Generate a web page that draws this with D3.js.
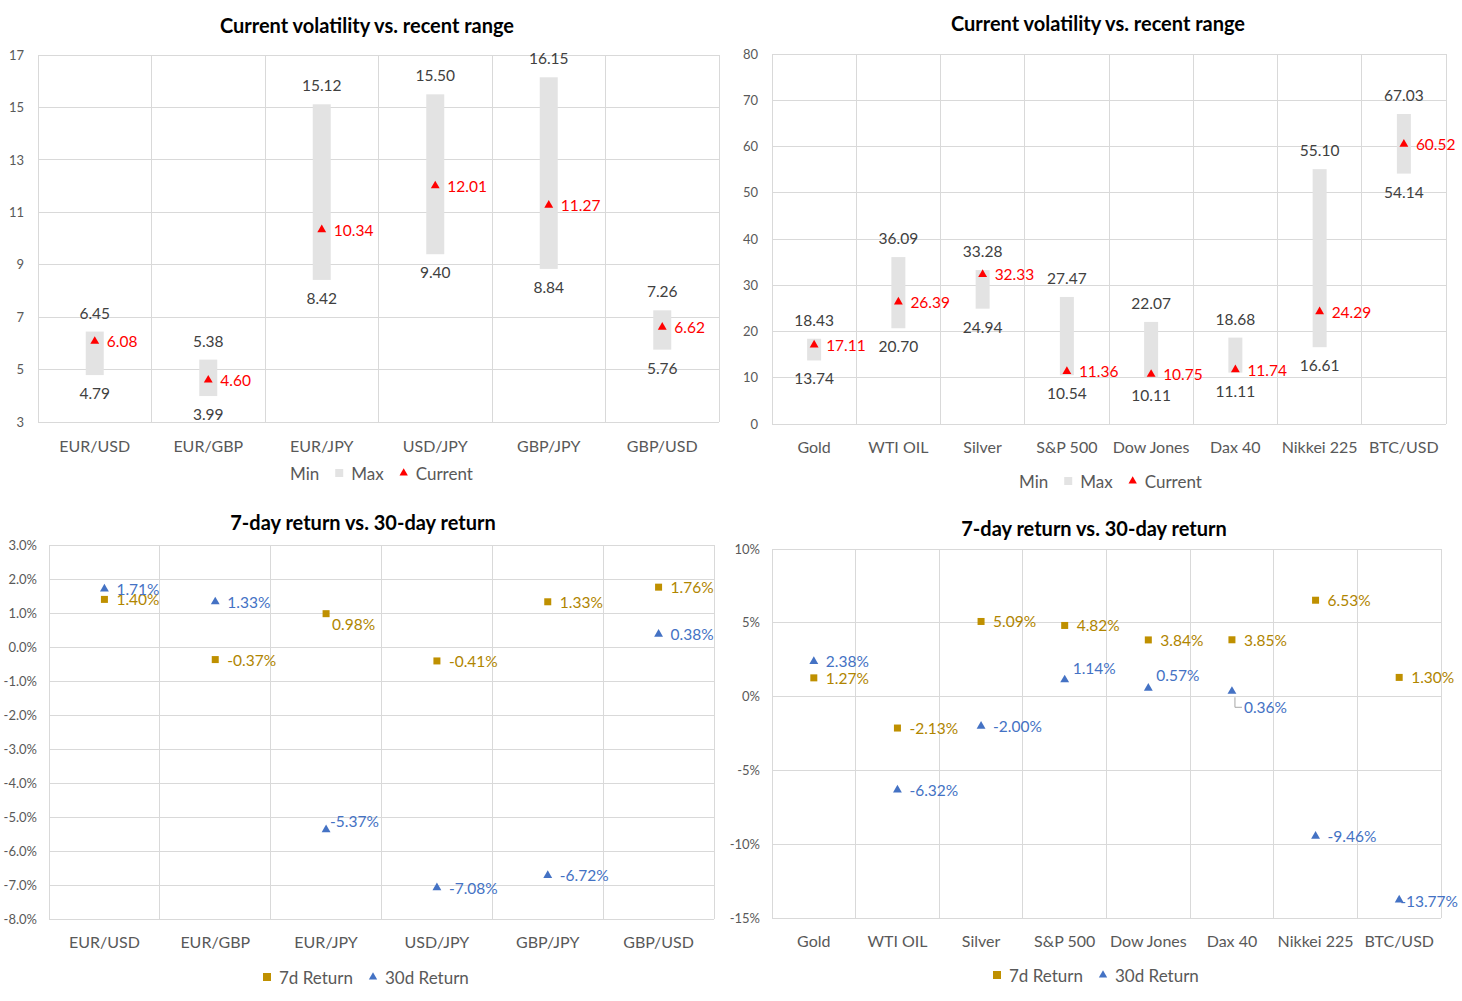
<!DOCTYPE html>
<html>
<head>
<meta charset="utf-8">
<script src="https://cdn.jsdelivr.net/npm/d3@7"></script>
<style>
  html, body { margin: 0; padding: 0; background: #fff; }
  svg { display: block; font-family: Lato, "Open Sans", sans-serif; }
</style>
</head>
<body>
<svg id="chart" width="1462" height="1001"></svg>
<script>
// ---------- DATA ----------
const fxCats = ["EUR/USD", "EUR/GBP", "EUR/JPY", "USD/JPY", "GBP/JPY", "GBP/USD"];
const fxVolMin = [4.79, 3.99, 8.42, 9.40, 8.84, 5.76];
const fxVolMax = [6.45, 5.38, 15.12, 15.50, 16.15, 7.26];
const fxVolCur = [6.08, 4.60, 10.34, 12.01, 11.27, 6.62];
const fxVolTicks = [3, 5, 7, 9, 11, 13, 15, 17];

const mktCats = ["Gold", "WTI OIL", "Silver", "S&P 500", "Dow Jones", "Dax 40", "Nikkei 225", "BTC/USD"];
const mktVolMin = [13.74, 20.70, 24.94, 10.54, 10.11, 11.11, 16.61, 54.14];
const mktVolMax = [18.43, 36.09, 33.28, 27.47, 22.07, 18.68, 55.10, 67.03];
const mktVolCur = [17.11, 26.39, 32.33, 11.36, 10.75, 11.74, 24.29, 60.52];
const mktVolTicks = [0, 10, 20, 30, 40, 50, 60, 70, 80];

const fxRet7 = [1.40, -0.37, 0.98, -0.41, 1.33, 1.76];
const fxRet30 = [1.71, 1.33, -5.37, -7.08, -6.72, 0.38];
const fxRetTicks = [-8, -7, -6, -5, -4, -3, -2, -1, 0, 1, 2, 3];

const mktRet7 = [1.27, -2.13, 5.09, 4.82, 3.84, 3.85, 6.53, 1.30];
const mktRet30 = [2.38, -6.32, -2.00, 1.14, 0.57, 0.36, -9.46, -13.77];
const mktRetTicks = [-15, -10, -5, 0, 5, 10];

const volTitle = "Current volatility vs. recent range";
const retTitle = "7-day return vs. 30-day return";

// ---------- STYLE ----------
const GRID = "#d9d9d9";
const AXIS_TXT = "#595959";
const LBL_TXT = "#404040";
const BAR = "#e3e3e3";
const RED = "#ff0000";
const GOLD = "#bf9000";
const GOLD_TXT = "#b08500";
const BLUE = "#4472c4";

const svg = d3.select("#chart");
const hy = s => s.replace(/\u2212/g, "-");

function frame(cfg, cats, ticks, fmt) {
  const g = svg.append("g");
  const x = d3.scaleBand().domain(cats).range([cfg.left, cfg.right]).padding(0);
  const y = d3.scaleLinear().domain(d3.extent(ticks)).range([cfg.bottom, cfg.top]);

  g.append("g").selectAll("line").data(ticks).join("line")
    .attr("x1", cfg.left).attr("x2", cfg.right)
    .attr("y1", d => y(d)).attr("y2", d => y(d))
    .attr("stroke", GRID).attr("stroke-width", 1).attr("shape-rendering", "crispEdges");
  const bounds = cats.map(c => x(c)).concat([cfg.right]);
  g.append("g").selectAll("line").data(bounds).join("line")
    .attr("x1", d => d).attr("x2", d => d)
    .attr("y1", cfg.top).attr("y2", cfg.bottom)
    .attr("stroke", GRID).attr("stroke-width", 1).attr("shape-rendering", "crispEdges");

  const ya = d3.axisLeft(y).tickValues(ticks).tickSize(0).tickPadding(0).tickFormat(d => hy(fmt(d)));
  const yg = g.append("g").attr("transform", `translate(${cfg.tickX},0)`).call(ya);
  yg.select(".domain").remove();
  yg.selectAll("text").attr("fill", AXIS_TXT).style("font-size", "13px")
    .style("font-family", "Lato, 'Open Sans', sans-serif");

  const xa = d3.axisBottom(x).tickSize(0).tickPadding(0);
  const xg = g.append("g").attr("transform", `translate(0,${cfg.catY})`).call(xa);
  xg.select(".domain").remove();
  xg.selectAll("text").attr("fill", AXIS_TXT).attr("dy", "0.35em").attr("y", 0)
    .style("font-size", "16px").style("font-family", "Lato, 'Open Sans', sans-serif");

  g.append("text").attr("x", cfg.titleX).attr("y", cfg.titleY)
    .attr("text-anchor", "middle").attr("dominant-baseline", "central")
    .attr("font-size", "20px").attr("font-weight", "bold").attr("fill", "#000")
    .text(cfg.title);
  return { g, x, y };
}

function triPath(s) {
  return d3.symbol().type(d3.symbolTriangle).size(s)();
}

function legend(g, startX, y, items) {
  let m = startX;
  items.forEach(it => {
    if (it.type === "square") {
      g.append("rect").attr("x", m - 4).attr("y", y - 4).attr("width", 8).attr("height", 8).attr("fill", it.color);
    } else if (it.type === "tri") {
      g.append("path").attr("d", triPath(30)).attr("transform", `translate(${m},${y})`).attr("fill", it.color);
    }
    const t = g.append("text").attr("x", m + 12).attr("y", y).attr("dominant-baseline", "central")
      .attr("font-size", "17px").attr("fill", AXIS_TXT).text(it.label);
    m = m + 12 + t.node().getComputedTextLength() + 20;
  });
}

function rangeChart(cfg, cats, mins, maxs, curs, ticks) {
  const { g, x, y } = frame(cfg, cats, ticks, d3.format("d"));
  const bw = cfg.barW;
  const data = cats.map((c, i) => ({ c, min: mins[i], max: maxs[i], cur: curs[i] }));
  const cx = d => x(d.c) + x.bandwidth() / 2;

  g.append("g").selectAll("rect").data(data).join("rect")
    .attr("x", d => cx(d) - bw / 2).attr("width", bw)
    .attr("y", d => y(d.max)).attr("height", d => y(d.min) - y(d.max))
    .attr("fill", BAR);

  g.append("g").selectAll("text").data(data).join("text")
    .attr("x", cx).attr("y", d => y(d.max) - 19)
    .attr("text-anchor", "middle").attr("dominant-baseline", "central")
    .attr("font-size", "15.5px").attr("fill", LBL_TXT).text(d => d.max.toFixed(2));
  g.append("g").selectAll("text").data(data).join("text")
    .attr("x", cx).attr("y", d => y(d.min) + 18)
    .attr("text-anchor", "middle").attr("dominant-baseline", "central")
    .attr("font-size", "15.5px").attr("fill", LBL_TXT).text(d => d.min.toFixed(2));

  g.append("g").selectAll("path").data(data).join("path")
    .attr("d", triPath(34)).attr("transform", d => `translate(${cx(d)},${y(d.cur)})`)
    .attr("fill", RED);
  g.append("g").selectAll("text").data(data).join("text")
    .attr("x", d => cx(d) + 12).attr("y", d => y(d.cur))
    .attr("dominant-baseline", "central")
    .attr("font-size", "15.5px").attr("fill", RED).text(d => d.cur.toFixed(2));

  legend(g, cfg.legX, cfg.legY, [
    { type: "none", label: "Min" },
    { type: "square", color: BAR, label: "Max" },
    { type: "tri", color: RED, label: "Current" }
  ]);
}

function returnChart(cfg, cats, r7, r30, ticks, fmt, offsets) {
  const { g, x, y } = frame(cfg, cats, ticks, fmt);
  const cx = c => x(c) + x.bandwidth() / 2;
  const pct = v => hy(d3.format(".2f")(v)) + "%";
  const d7 = cats.map((c, i) => ({ c, v: r7[i] }));
  const d30 = cats.map((c, i) => ({ c, v: r30[i] }));
  const off = (key, c) => (offsets[key] && offsets[key][c]) || { dx: 12, dy: 0 };

  cats.forEach((c, i) => {
    const o = off("r30", c);
    if (o.leader) {
      const px = cx(c) + 3, py = y(r30[i]) + 6;
      const ly = y(r30[i]) + o.dy;
      g.append("path").attr("d", `M${px},${py} V${ly} H${cx(c) + o.dx - 2}`)
        .attr("fill", "none").attr("stroke", "#a6a6a6").attr("stroke-width", 1);
    }
  });

  g.append("g").selectAll("text").data(d7).join("text")
    .attr("x", d => cx(d.c) + off("r7", d.c).dx).attr("y", d => y(d.v) + off("r7", d.c).dy)
    .attr("dominant-baseline", "central").attr("font-size", "15.5px").attr("fill", GOLD_TXT)
    .text(d => pct(d.v));
  g.append("g").selectAll("text").data(d30).join("text")
    .attr("x", d => cx(d.c) + off("r30", d.c).dx).attr("y", d => y(d.v) + off("r30", d.c).dy)
    .attr("dominant-baseline", "central").attr("font-size", "15.5px").attr("fill", BLUE)
    .text(d => pct(d.v));

  g.append("g").selectAll("rect").data(d7).join("rect")
    .attr("x", d => cx(d.c) - 3.5).attr("y", d => y(d.v) - 3.5)
    .attr("width", 7).attr("height", 7).attr("fill", GOLD);
  g.append("g").selectAll("path").data(d30).join("path")
    .attr("d", triPath(34)).attr("transform", d => `translate(${cx(d.c)},${y(d.v)})`)
    .attr("fill", BLUE);

  legend(g, cfg.legX, cfg.legY, [
    { type: "square", color: GOLD, label: "7d Return" },
    { type: "tri", color: BLUE, label: "30d Return" }
  ]);
}

// ---------- CHARTS ----------
rangeChart({ left: 38, right: 719, top: 55, bottom: 422, tickX: 24, catY: 446,
  titleX: 367, titleY: 25, title: volTitle, barW: 18, legX: 278, legY: 473 },
  fxCats, fxVolMin, fxVolMax, fxVolCur, fxVolTicks);

rangeChart({ left: 772, right: 1446, top: 54, bottom: 424, tickX: 758, catY: 447,
  titleX: 1098, titleY: 23, title: volTitle, barW: 14, legX: 1007, legY: 481 },
  mktCats, mktVolMin, mktVolMax, mktVolCur, mktVolTicks);

returnChart({ left: 49, right: 714, top: 545, bottom: 919, tickX: 37, catY: 942,
  titleX: 363, titleY: 522, title: retTitle, legX: 267, legY: 977 },
  fxCats, fxRet7, fxRet30, fxRetTicks, d => d3.format(".1f")(d) + "%",
  { r7: { "EUR/JPY": { dx: 6, dy: 10 } },
    r30: { "EUR/JPY": { dx: 4, dy: -9 } } });

returnChart({ left: 772, right: 1441, top: 549, bottom: 918, tickX: 760, catY: 941,
  titleX: 1094, titleY: 528, title: retTitle, legX: 997, legY: 975 },
  mktCats, mktRet7, mktRet30, mktRetTicks, d => d3.format("d")(d) + "%",
  { r30: { "S&P 500": { dx: 8, dy: -12 }, "Dow Jones": { dx: 8, dy: -13 },
           "Dax 40": { dx: 12, dy: 16, leader: true }, "BTC/USD": { dx: 1, dy: 1 } } });
</script>
</body>
</html>
